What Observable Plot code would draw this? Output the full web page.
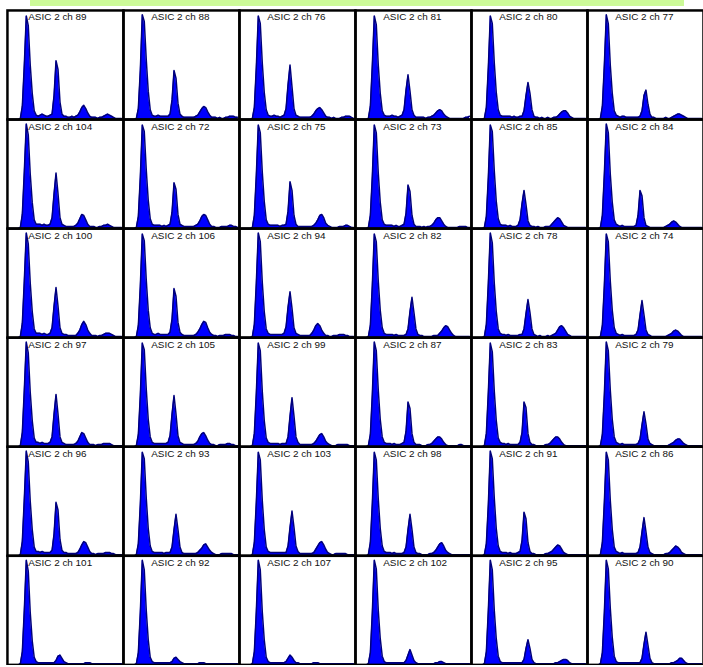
<!DOCTYPE html>
<html><head><meta charset="utf-8">
<script src="https://cdn.jsdelivr.net/npm/d3@7"></script>
<script src="https://cdn.jsdelivr.net/npm/@observablehq/plot@0.6"></script>
<style>
html,body{margin:0;padding:0;background:#fff;overflow:hidden;width:703px;height:667px;position:relative}
#bar{position:absolute;left:30px;top:0;width:654px;height:6px;background:#ccfa98}
#chart{position:absolute;left:0;top:6px}
</style></head><body>
<div id="bar"></div><div id="chart"></div>
<script>
// Layout of channels (rows x columns)
const grid = [
  [89, 88, 76, 81, 80, 77],
  [104, 72, 75, 73, 85, 84],
  [100, 106, 94, 82, 78, 74],
  [97, 105, 99, 87, 83, 79],
  [96, 93, 103, 98, 91, 86],
  [101, 92, 107, 102, 95, 90]
];
const titlePrefix = "ASIC 2 ch ";

// Histogram counts (58 bins each, % of panel height)
const ch89 = [0,0,0,0,0,0,1,12,50,95, 86,50,24,8,4,3,4,5,4,3, 3,4,5,22,54,46,16,5,3,3, 2,2,3,2,3,4,7,11,13,10, 6,3,2,2,2,1,2,2,3,4, 5,4,3,2,1,1,1,1];
const ch88 = [0,0,0,0,0,0,1,10,45,96, 90,55,26,9,4,3,3,4,3,3, 3,3,3,5,18,45,38,15,5,3, 2,2,2,2,2,2,3,4,7,10, 12,11,7,4,2,2,2,1,2,1, 1,2,2,3,3,3,2,2];
const ch76 = [0,0,0,0,0,0,1,11,48,95, 88,52,25,9,4,3,3,4,3,3, 2,3,4,10,32,50,30,10,4,3, 2,2,2,2,2,2,3,5,8,10, 11,9,6,3,2,2,1,2,1,1, 1,2,2,3,3,3,2,1];
const ch81 = [0,0,0,0,0,0,1,12,50,95, 87,50,24,8,4,3,3,3,4,3, 3,2,3,4,9,27,41,26,9,4, 2,2,2,2,2,1,2,2,3,4, 6,8,9,8,5,3,2,1,1,1, 1,1,1,1,1,2,2,3];
const ch80 = [0,0,0,0,0,0,1,11,48,95, 88,52,25,9,4,3,3,3,3,3, 2,3,2,2,3,3,8,22,34,24, 9,3,2,2,1,2,1,1,2,1, 1,2,2,3,5,7,8,8,6,3, 2,1,1,1,1,1,1,1];
const ch77 = [0,0,0,0,0,0,1,12,50,96, 88,50,24,8,4,3,2,3,3,2, 2,2,2,2,2,2,3,8,22,27, 14,5,2,2,1,1,1,1,1,2, 1,1,2,3,4,5,5,4,3,2, 1,1,1,1,1,1,1,1];

const ch104 = [0,0,0,0,0,0,1,13,52,96, 86,50,24,8,4,4,4,3,4,3, 3,4,10,32,51,32,10,4,3,2, 2,2,2,2,3,5,9,13,12,8, 4,2,2,2,1,1,2,2,3,3, 4,3,2,1,1,1,1,1];
const ch72 = [0,0,0,0,0,0,1,11,47,95, 89,54,26,9,4,3,3,3,3,2, 3,2,3,4,15,42,36,13,4,3, 2,2,2,2,2,2,3,4,7,11, 13,12,8,4,2,2,1,1,1,2, 2,2,2,3,3,2,2,1];
const ch75 = [0,0,0,0,0,0,1,12,49,95, 88,52,25,8,4,3,3,3,3,3, 2,3,3,4,16,43,35,12,4,2, 2,2,2,2,2,2,2,3,5,8, 12,13,10,5,3,2,1,1,1,1, 2,2,2,3,3,2,1,1];
const ch73 = [0,0,0,0,0,0,1,12,48,95, 88,51,24,8,4,3,3,3,3,2, 3,2,2,3,4,14,40,34,12,4, 2,2,2,1,2,1,2,2,3,5, 8,10,10,7,4,2,1,1,1,1, 1,1,2,2,2,2,1,1];
const ch85 = [0,0,0,0,0,0,1,11,47,95, 89,53,25,9,4,3,3,3,2,3, 2,2,2,3,8,23,35,22,7,3, 2,2,1,2,1,1,1,2,2,2, 4,6,8,10,9,6,3,2,1,1, 1,1,1,1,1,1,1,1];
const ch84 = [0,0,0,0,0,0,1,12,50,96, 88,50,24,8,4,3,2,3,2,2, 2,2,2,2,3,12,35,30,10,3, 2,1,1,1,1,1,1,1,1,2, 3,4,6,7,6,4,2,1,1,1, 1,1,1,1,1,1,1,1];

const ch100 = [0,0,0,0,0,0,1,13,52,96, 86,50,24,8,4,4,4,3,4,3, 3,4,9,29,46,29,9,4,3,3, 2,2,2,2,2,4,7,12,15,12, 7,4,2,2,2,1,2,2,3,4, 4,4,3,2,1,1,1,1];
const ch106 = [0,0,0,0,0,0,1,11,47,95, 89,53,25,9,4,3,3,4,3,3, 3,3,3,5,17,45,38,14,5,3, 2,2,2,2,2,2,3,5,8,12, 15,14,9,5,3,2,2,1,2,2, 2,3,3,3,2,2,1,1];
const ch94 = [0,0,0,0,0,0,1,12,50,96, 88,51,24,8,4,3,3,3,3,3, 3,3,4,10,28,42,27,9,4,3, 2,2,2,2,2,2,4,7,11,13, 11,7,4,2,2,1,1,2,2,2, 3,3,3,2,2,1,1,1];
const ch82 = [0,0,0,0,0,0,1,11,48,95, 88,52,25,9,4,3,3,3,3,2, 3,2,2,2,2,3,8,24,37,23, 8,3,2,2,1,1,1,1,1,2, 2,2,4,6,9,11,10,7,4,2, 1,1,1,1,1,1,1,1];
const ch78 = [0,0,0,0,0,0,1,12,50,96, 87,50,24,8,4,3,3,2,3,2, 2,2,2,2,3,3,8,22,35,23, 8,3,2,1,2,1,1,1,2,1, 2,3,4,7,10,11,9,6,3,2, 1,1,1,1,1,1,1,1];
const ch74 = [0,0,0,0,0,0,1,11,48,95, 88,52,25,9,4,3,2,3,2,2, 2,2,2,2,3,7,21,34,21,7, 3,2,1,1,1,1,1,1,1,1, 2,3,4,6,7,6,4,2,1,1, 1,1,1,1,1,1,1,1];

const ch97 = [0,0,0,0,0,0,1,13,52,96, 86,50,24,8,4,4,3,4,3,3, 3,4,9,30,48,30,9,4,3,2, 2,2,2,2,3,5,9,13,12,8, 4,2,2,2,1,2,2,2,3,3, 3,3,2,1,1,1,1,1];
const ch105 = [0,0,0,0,0,0,1,11,47,95, 89,53,25,9,4,3,3,3,3,3, 3,3,4,10,30,47,30,10,4,3, 2,2,2,2,2,2,3,5,9,12, 13,10,6,3,2,2,1,1,2,2, 2,2,3,3,2,2,1,1];
const ch99 = [0,0,0,0,0,0,1,12,49,95, 88,51,24,8,4,3,3,3,3,3, 2,3,3,3,9,28,45,28,9,4, 2,2,2,2,2,2,2,3,5,8, 11,12,9,5,3,2,1,1,1,2, 2,2,2,2,2,1,1,1];
const ch87 = [0,0,0,0,0,0,1,11,48,96, 88,52,25,9,4,3,3,3,2,3, 2,2,2,3,4,14,41,35,12,4, 2,2,2,1,1,1,2,2,3,5, 7,9,9,7,4,2,1,1,1,1, 1,1,2,2,1,1,1,1];
const ch83 = [0,0,0,0,0,0,1,12,50,95, 87,51,24,8,4,3,3,2,3,2, 2,2,2,2,4,13,41,36,12,4, 2,2,1,1,1,1,1,2,2,3, 5,7,9,9,7,4,2,1,1,1, 1,1,1,1,1,1,1,1];
const ch79 = [0,0,0,0,0,0,1,11,48,96, 88,52,25,9,4,3,2,3,2,2, 2,2,2,2,2,3,7,20,32,21, 7,3,2,1,1,1,1,1,1,1, 1,2,3,4,6,7,7,5,3,2, 1,1,1,1,1,1,1,1];

const ch96 = [0,0,0,0,0,0,1,13,52,96, 86,50,24,8,4,4,3,4,3,3, 3,3,5,20,49,42,15,5,3,3, 2,2,2,2,2,3,6,10,13,12, 8,4,2,2,1,2,2,2,2,3, 3,3,2,2,1,1,1,1];
const ch93 = [0,0,0,0,0,0,1,11,47,95, 89,53,25,9,4,3,3,3,3,3, 2,3,3,3,8,24,38,24,8,3, 2,2,2,2,2,2,2,3,5,7, 10,11,8,5,3,2,1,1,1,2, 2,2,2,2,2,1,1,1];
const ch103 = [0,0,0,0,0,0,1,12,49,95, 88,51,24,8,4,3,3,3,3,3, 3,3,3,3,9,26,41,26,9,4, 2,2,2,2,2,2,2,3,6,9, 12,13,10,6,3,2,1,1,2,2, 2,2,2,2,1,1,1,1];
const ch98 = [0,0,0,0,0,0,1,12,48,95, 88,52,25,9,4,3,3,3,2,3, 2,2,2,2,3,8,24,38,24,8, 3,2,2,1,1,1,1,2,2,3, 5,8,11,12,9,5,3,2,1,1, 1,1,1,1,1,1,1,1];
const ch91 = [0,0,0,0,0,0,1,11,47,96, 89,53,25,9,4,3,3,3,2,3, 2,2,2,3,4,14,40,34,12,4, 2,2,1,1,1,1,1,2,2,3, 4,6,8,10,9,6,3,2,1,1, 1,1,1,1,1,1,1,1];
const ch86 = [0,0,0,0,0,0,1,12,49,95, 88,51,24,8,4,3,2,3,2,2, 2,2,2,2,2,3,8,22,35,22, 8,3,2,1,1,1,1,1,1,2, 2,3,5,7,9,8,6,3,2,1, 1,1,1,1,1,1,1,1];

const ch101 = [0,0,0,0,0,0,1,12,50,96, 86,48,22,7,3,2,2,2,2,2, 2,2,2,2,4,8,9,6,3,2, 1,1,1,1,1,1,1,1,1,2, 2,2,1,1,1,1,1,1,1,1, 1,1,1,1,1,1,1,1];
const ch92 = [0,0,0,0,0,0,1,11,48,96, 87,50,23,7,3,2,2,2,2,2, 2,2,2,2,3,6,7,5,3,2, 1,1,1,1,1,1,1,1,2,2, 2,1,1,1,1,1,1,1,1,1, 1,1,1,1,1,1,1,1];
const ch107 = [0,0,0,0,0,0,1,12,49,96, 87,49,23,7,3,2,2,2,2,2, 2,2,2,3,6,9,7,4,2,2, 1,1,1,1,1,1,1,2,2,2, 1,1,1,1,1,1,1,1,1,1, 1,1,1,1,1,1,1,1];
const ch102 = [0,0,0,0,0,0,1,11,48,96, 88,50,24,8,3,2,2,2,2,2, 2,2,2,2,2,4,9,14,9,4, 2,1,1,1,1,1,1,1,1,1, 2,2,3,3,2,1,1,1,1,1, 1,1,1,1,1,1,1,1];
const ch95 = [0,0,0,0,0,0,1,12,50,96, 87,50,24,8,3,2,2,2,2,2, 2,2,2,2,2,2,5,15,23,15, 5,2,1,1,1,1,1,1,1,1, 1,1,2,2,3,4,5,5,4,2, 1,1,1,1,1,1,1,1];
const ch90 = [0,0,0,0,0,0,1,11,48,96, 88,52,25,8,3,2,2,2,2,2, 2,2,2,2,2,2,2,6,19,30, 18,6,2,1,1,1,1,1,1,1, 1,1,2,2,3,4,6,6,4,2, 1,1,1,1,1,1,1,1];

const hist = {89: ch89, 88: ch88, 76: ch76, 81: ch81, 80: ch80, 77: ch77,
  104: ch104, 72: ch72, 75: ch75, 73: ch73, 85: ch85, 84: ch84,
  100: ch100, 106: ch106, 94: ch94, 82: ch82, 78: ch78, 74: ch74,
  97: ch97, 105: ch105, 99: ch99, 87: ch87, 83: ch83, 79: ch79,
  96: ch96, 93: ch93, 103: ch103, 98: ch98, 91: ch91, 86: ch86,
  101: ch101, 92: ch92, 107: ch107, 102: ch102, 95: ch95, 90: ch90};

const points = [];
grid.forEach((rowChs, r) => rowChs.forEach((ch, c) =>
  hist[ch].forEach((v, i) => points.push({row: r, col: c, ch, bin: i + 0.5, v}))));

const plot = Plot.plot({
  width: 709,
  height: 665,
  marginTop: 2, marginLeft: 7, marginRight: 0, marginBottom: 0,
  style: {fontFamily: "'Liberation Sans', Arial, Helvetica, sans-serif", background: "transparent"},
  facet: {data: points, x: "col", y: "row", marginTop: 0, marginRight: 0, marginBottom: 0, marginLeft: 0, label: null},
  fx: {padding: 0, axis: null, domain: [0, 1, 2, 3, 4, 5]},
  fy: {padding: 0, axis: null, domain: [0, 1, 2, 3, 4, 5]},
  x: {domain: [0, 58.5], axis: null},
  y: {domain: [0, 100], axis: null},
  marks: [
    Plot.areaY(points, {x: "bin", y: "v", z: "ch", fill: "#0000ff", curve: "linear"}),
    Plot.lineY(points, {x: "bin", y: "v", z: "ch", stroke: "#00007a", strokeWidth: 1.5, curve: "linear"}),
    Plot.text(points, {filter: d => d.bin === 0.5 && d.col === 0, text: d => titlePrefix + d.ch,
      frameAnchor: "top-left", textAnchor: "start", dx: 21, dy: 3, fontSize: 10, fill: "#111"}),
    Plot.text(points, {filter: d => d.bin === 0.5 && d.col !== 0, text: d => titlePrefix + d.ch,
      frameAnchor: "top-left", textAnchor: "start", dx: 28, dy: 3, fontSize: 10, fill: "#111"}),
    Plot.frame({stroke: "#000", strokeWidth: 2.5})
  ]
});
document.getElementById("chart").appendChild(plot);
</script>
</body></html>
